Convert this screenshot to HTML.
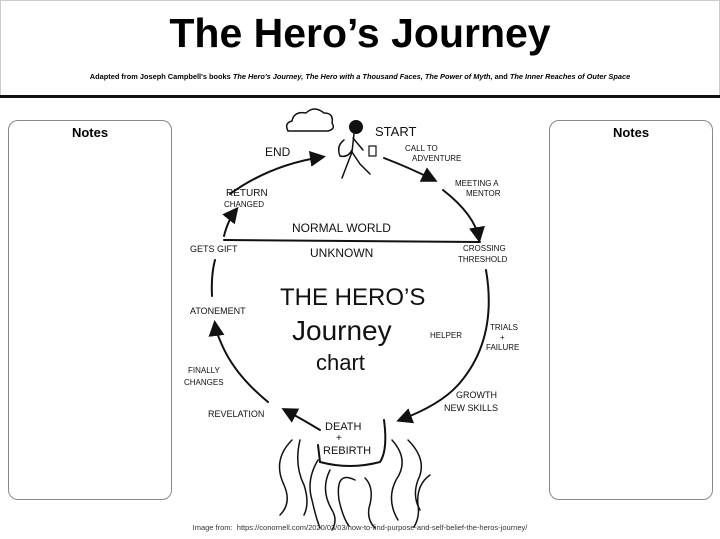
<!DOCTYPE html>
<html><head><meta charset="utf-8"><style>
html,body{margin:0;padding:0;background:#fff;}
body{width:720px;height:539px;position:relative;overflow:hidden;font-family:"Liberation Sans",sans-serif;}
.hdr{position:absolute;left:0;top:0;width:718px;height:94px;border:1px solid #ccc;border-bottom:none;}
.line{position:absolute;left:0;top:95px;width:720px;height:3px;background:#111;}
.title{position:absolute;left:0;width:720px;top:10px;text-align:center;font-size:41px;font-weight:bold;}
.sub{position:absolute;left:0;width:720px;top:72px;text-align:center;font-size:7.4px;font-weight:bold;}
.notes{position:absolute;top:120px;width:162px;height:378px;border:1.5px solid #888;border-radius:10px;}
.notes div{text-align:center;font-weight:bold;font-size:13px;margin-top:4px;}
.foot{position:absolute;left:0;width:720px;top:523px;text-align:center;font-size:7.5px;color:#333;}
svg{position:absolute;left:0;top:0;}
</style></head><body>
<div class="hdr"></div>
<div class="title">The Hero’s Journey</div>
<div class="sub">Adapted from Joseph Campbell's books <i>The Hero's Journey, The Hero with a Thousand Faces, The Power of Myth,</i> and <i>The Inner Reaches of Outer Space</i></div>
<div class="line"></div>
<div class="notes" style="left:8px"><div>Notes</div></div>
<div class="notes" style="left:549px"><div>Notes</div></div>
<svg width="720" height="539" viewBox="0 0 720 539">
<defs><marker id="a" markerWidth="8" markerHeight="8" refX="6" refY="4" orient="auto"><path d="M0,0 L8,4 L0,8 z" fill="#111"/></marker></defs>
<g fill="none" stroke="#111" stroke-width="2" stroke-linecap="round">
<path d="M288,131 q-4,-8 4,-10 q2,-10 14,-8 q8,-8 18,0 q10,0 8,10 q4,6 -4,8 z" stroke-width="1.5"/>
<path d="M384,158 Q410,168 434,180" marker-end="url(#a)"/>
<path d="M443,190 Q475,215 479,239" marker-end="url(#a)"/>
<path d="M486,270 Q498,340 458,385 Q440,405 400,420" marker-end="url(#a)"/>
<path d="M320,430 Q300,418 285,410" marker-end="url(#a)"/>
<path d="M268,402 Q235,375 222,345 Q216,332 215,324" marker-end="url(#a)"/>
<path d="M212,296 Q211,275 215,260"/>
<path d="M224,236 Q228,220 236,210" marker-end="url(#a)"/>
<path d="M230,194 Q270,165 322,157" marker-end="url(#a)"/>
<path d="M224,240 L480,242"/>
<path d="M384,420 Q388,450 380,462 Q350,470 320,462 L318,445"/>
<circle cx="356" cy="127" r="6" fill="#111"/>
<path d="M354,134 l-2,18 M352,152 l-10,26 M352,152 l8,12 l10,10 M353,138 l10,12 M344,140 q-8,6 -4,16 q8,2 12,-6" stroke-width="1.5"/>
<rect x="369" y="146" width="7" height="10" stroke-width="1.2"/>
<g stroke-width="1.5">
<path d="M292,440 q-20,20 -8,45 q8,18 -4,30"/><path d="M300,440 q-6,25 4,45 q6,18 0,30"/>
<path d="M318,460 q-12,20 -6,40 q4,18 8,28"/><path d="M330,470 q-10,20 2,40 q6,10 0,20"/>
<path d="M355,480 q-20,-10 -16,20 q4,18 10,26"/><path d="M365,478 q10,10 4,30 q-2,12 6,20"/>
<path d="M392,440 q18,20 4,40 q-10,20 2,40"/><path d="M408,440 q20,20 10,40 q-6,16 2,30"/>
<path d="M430,475 q-14,10 -12,30 q2,12 -4,22"/>
</g>
</g>
<g fill="#111" font-family="Liberation Sans, sans-serif" font-size="10">
<text x="375" y="136" font-size="13">START</text>
<text x="265" y="156" font-size="12">END</text>
<text x="405" y="151" font-size="8">CALL TO</text><text x="412" y="161" font-size="8">ADVENTURE</text>
<text x="455" y="186" font-size="8">MEETING A</text><text x="466" y="196" font-size="8">MENTOR</text>
<text x="226" y="196" font-size="10">RETURN</text><text x="224" y="207" font-size="8">CHANGED</text>
<text x="292" y="232" font-size="12">NORMAL WORLD</text>
<text x="310" y="257" font-size="12">UNKNOWN</text>
<text x="190" y="252" font-size="9">GETS GIFT</text>
<text x="463" y="251" font-size="8">CROSSING</text><text x="458" y="262" font-size="8">THRESHOLD</text>
<text x="280" y="305" font-size="24">THE HERO’S</text>
<text x="292" y="340" font-size="28">Journey</text>
<text x="316" y="370" font-size="22">chart</text>
<text x="190" y="314" font-size="9">ATONEMENT</text>
<text x="430" y="338" font-size="8">HELPER</text>
<text x="490" y="330" font-size="8">TRIALS</text><text x="500" y="340" font-size="8">+</text><text x="486" y="350" font-size="8">FAILURE</text>
<text x="188" y="373" font-size="8">FINALLY</text><text x="184" y="385" font-size="8">CHANGES</text>
<text x="456" y="398" font-size="9">GROWTH</text><text x="444" y="411" font-size="9">NEW SKILLS</text>
<text x="208" y="417" font-size="9">REVELATION</text>
<text x="325" y="430" font-size="11">DEATH</text><text x="336" y="441" font-size="10">+</text><text x="323" y="454" font-size="11">REBIRTH</text>
</g>
</svg>
<div class="foot">Image from:&nbsp; https://conornell.com/2020/03/03/how-to-find-purpose-and-self-belief-the-heros-journey/</div>
</body></html>
